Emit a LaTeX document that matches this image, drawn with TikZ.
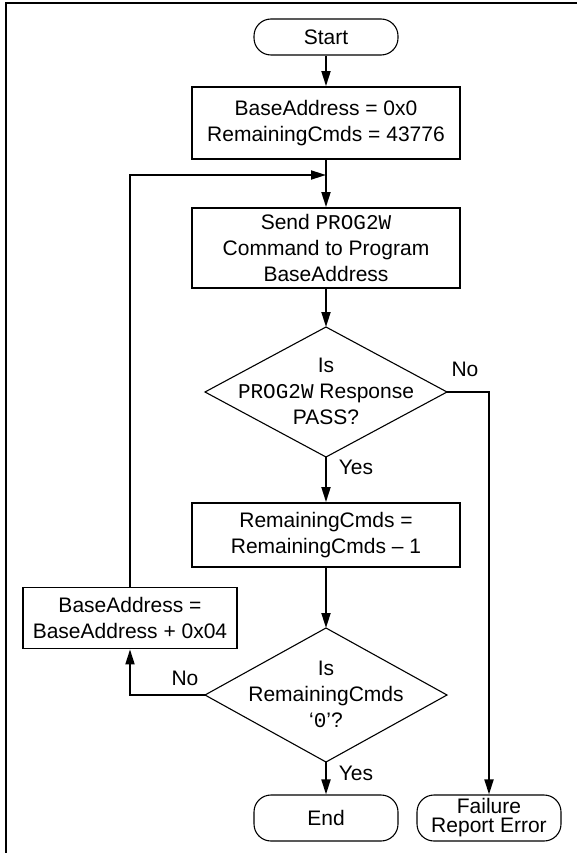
\documentclass[tikz,border=0pt]{standalone}
\usepackage{fontspec}
\setmainfont{Liberation Sans}
\setmonofont{Liberation Mono}
\usetikzlibrary{arrows.meta,calc}
\begin{document}
\begin{tikzpicture}[x=1pt,y=-1pt,
  txt/.style={font=\fontsize{21}{26}\selectfont, align=center, inner sep=0pt},
  procbox/.style={txt, draw, line width=1.8pt, minimum width=268pt, minimum height=#1},
  procbox/.default=70pt,
  term/.style={txt, draw, line width=1.1pt, rounded corners=17pt, minimum width=144pt, minimum height=#1},
  term/.default=46pt,
  dia/.style={draw, line width=1.1pt},
  arr/.style={line width=1.8pt, -{Triangle[length=15pt,width=9pt]}},
  lbl/.style={txt}
]
\useasboundingbox (0,0) rectangle (577,853);
\draw[line width=2.2pt] (6,853) -- (6,3) -- (577,3);

% nodes
\node[term=36pt, minimum width=144pt] (start) at (326,37) {Start};
\node[procbox=72pt] (b1) at (326,123) {BaseAddress = 0x0\\RemainingCmds = 43776};
\coordinate (join) at (326,175);
\node[procbox=80pt] (b2) at (326,248) {Send \texttt{PROG2W}\\Command to Program\\BaseAddress};

% diamond 1
\coordinate (d1t) at (326,327);
\coordinate (d1r) at (447,392);
\coordinate (d1b) at (326,457);
\coordinate (d1l) at (205,392);
\draw[dia] (d1t) -- (d1r) -- (d1b) -- (d1l) -- cycle;
\node[txt] (d1) at (326,391) {Is\\\texttt{PROG2W} Response\\PASS?};

\node[procbox=64pt] (b3) at (326,535) {RemainingCmds =\\RemainingCmds -- 1};

% diamond 2
\coordinate (d2t) at (326,628);
\coordinate (d2r) at (447,695);
\coordinate (d2b) at (326,762);
\coordinate (d2l) at (205,695);
\draw[dia] (d2t) -- (d2r) -- (d2b) -- (d2l) -- cycle;
\node[txt] (d2) at (326,694) {Is\\RemainingCmds\\‘\texttt{0}’?};

\node[procbox=61pt, minimum width=214pt] (b4) at (130,618) {BaseAddress =\\BaseAddress + 0x04};

\node[term] (end) at (326,818) {End};
\node[term, font=\fontsize{21}{19}\selectfont] (fail) at (489,818) {Failure\\Report Error};

% connectors
\draw[arr] (start) -- (b1);
\draw[arr] (b1) -- (b2);
\draw[arr] (b4.north) |- (join);
\draw[arr] (b2) -- (d1t);
\draw[arr] (d1r) -| (fail.north);
\draw[arr] (d1b) -- (b3);
\draw[arr] (b3) -- (d2t);
\draw[arr] (d2l) -| (b4.south);
\draw[arr] (d2b) -- (end);

% labels
\node[lbl] (no1) at (465,369) {No};
\node[lbl] (yes1) at (356,467) {Yes};
\node[lbl] (no2) at (185,678) {No};
\node[lbl] (yes2) at (356,773) {Yes};
\end{tikzpicture}
\end{document}
